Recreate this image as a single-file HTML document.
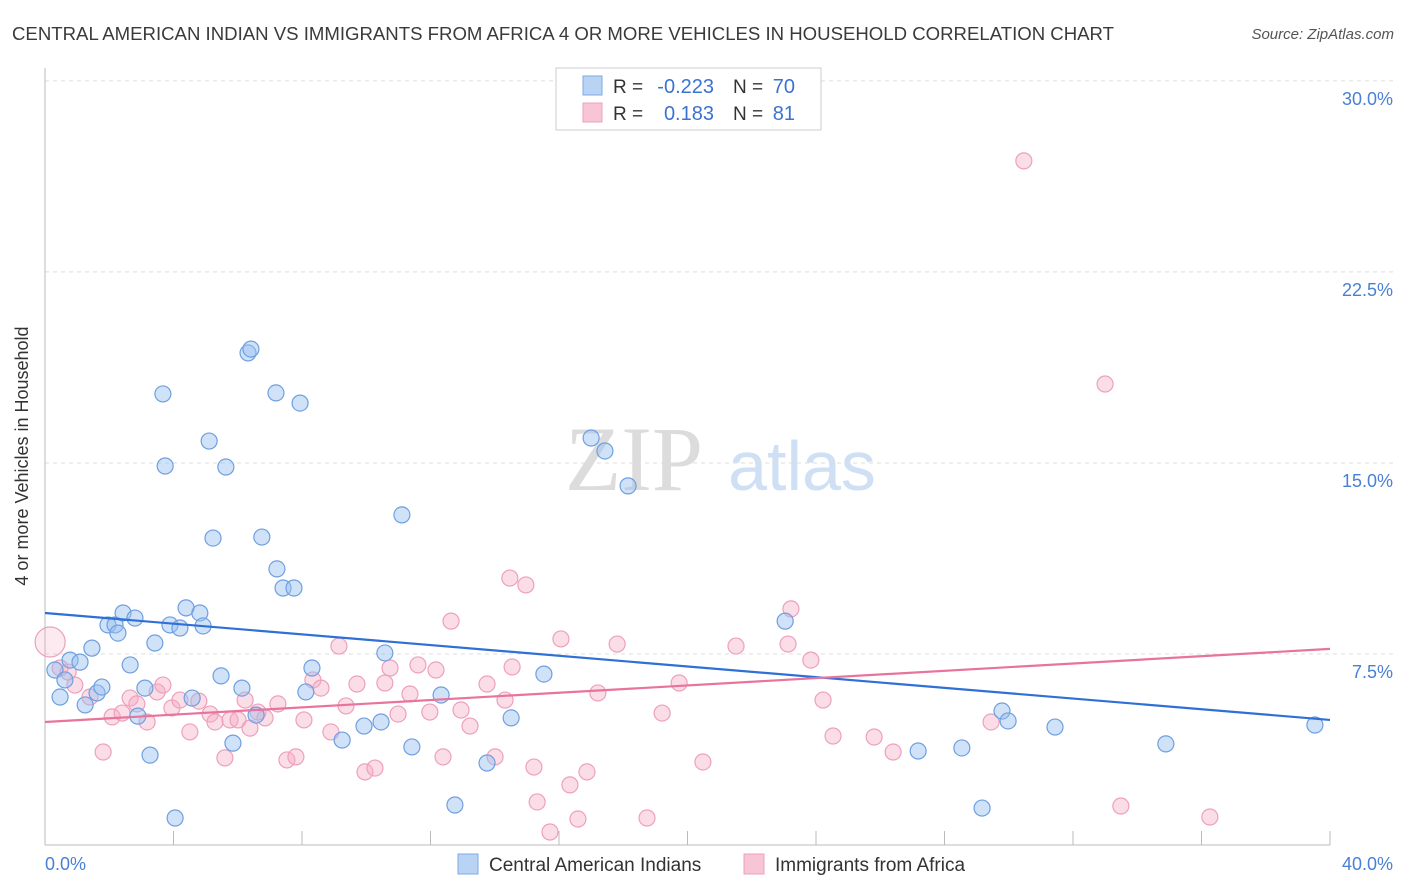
<!DOCTYPE html>
<html><head><meta charset="utf-8"><style>
body{margin:0;background:#fff;font-family:"Liberation Sans",sans-serif;}
svg{display:block}
</style></head><body>
<svg id="chart" width="1406" height="892" xmlns="http://www.w3.org/2000/svg">
<text x="12" y="40" font-size="18.6" fill="#3a3a3a">CENTRAL AMERICAN INDIAN VS IMMIGRANTS FROM AFRICA 4 OR MORE VEHICLES IN HOUSEHOLD CORRELATION CHART</text>
<text x="1394" y="39" font-size="15" fill="#555" text-anchor="end" font-style="italic">Source: ZipAtlas.com</text>
<text x="28" y="456" font-size="18" fill="#333" text-anchor="middle" transform="rotate(-90 28 456)">4 or more Vehicles in Household</text>
<g><text x="634" y="490" font-size="92" fill="#dcdcdc" font-family="Liberation Serif" text-anchor="middle">ZIP</text><text x="802" y="490" font-size="70" fill="#cfe0f5" text-anchor="middle">atlas</text></g>
<g id="grid"></g><g id="axes"></g><g id="pts"></g><g id="lines"></g>
<g>
<rect x="556" y="68" width="265" height="62" fill="#fff" stroke="#ccc"/>
<rect x="583" y="76" width="19" height="19" fill="#b9d3f5" stroke="#7ea8e0"/>
<rect x="583" y="103" width="19" height="19" fill="#f8c5d6" stroke="#eea0bb"/>
<text x="613" y="93" font-size="19" fill="#333">R =</text>
<text x="714" y="93" font-size="20" fill="#3b73d1" text-anchor="end">-0.223</text>
<text x="733" y="93" font-size="19" fill="#333">N =</text>
<text x="795" y="93" font-size="20" fill="#3b73d1" text-anchor="end">70</text>
<text x="613" y="120" font-size="19" fill="#333">R =</text>
<text x="714" y="120" font-size="20" fill="#3b73d1" text-anchor="end">0.183</text>
<text x="733" y="120" font-size="19" fill="#333">N =</text>
<text x="795" y="120" font-size="20" fill="#3b73d1" text-anchor="end">81</text>
</g>
<g>
<rect x="458" y="854" width="20" height="20" fill="#b9d3f5" stroke="#7ea8e0"/>
<text x="489" y="871" font-size="19" fill="#333">Central American Indians</text>
<rect x="744" y="854" width="20" height="20" fill="#f8c5d6" stroke="#eea0bb"/>
<text x="775" y="871" font-size="19" fill="#333">Immigrants from Africa</text>
</g>
</svg>
<script>
const yTicks=[7.5,15,22.5,30];
const yTickLabels=["7.5%","15.0%","22.5%","30.0%"];
const xTickVals=[0,4,8,12,16,20,24,28,32,36,40];
const xEndLabels=["0.0%","40.0%"];
const blueX=[0.31,0.47,0.62,0.78,1.09,1.25,1.46,1.62,1.77,1.96,2.18,2.27,2.43,2.65,2.80,3.11,2.89,3.27,3.42,3.67,3.74,3.89,4.05,4.20,4.39,4.58,4.82,4.92,5.11,5.23,5.48,5.63,5.85,6.13,6.32,6.41,6.57,6.75,7.19,7.22,7.41,7.75,7.94,8.12,8.31,9.25,9.93,10.46,10.58,11.11,11.42,12.33,12.76,13.76,14.51,15.53,17.00,17.43,18.15,23.04,27.18,28.54,29.17,29.79,29.98,31.44,34.89,39.53];
const blueY=[6.87,5.81,6.48,7.26,7.18,5.50,7.73,5.97,6.20,8.64,8.64,8.32,9.11,7.07,8.91,6.16,5.06,3.53,7.93,17.71,14.88,8.64,1.06,8.52,9.31,5.77,9.11,8.60,15.86,12.05,6.64,14.84,4.00,6.16,19.32,19.47,5.10,12.09,17.75,10.84,10.09,10.09,17.35,6.01,6.95,4.12,4.67,4.83,7.54,12.96,3.85,5.89,1.57,3.22,4.99,6.71,15.98,15.47,14.10,8.79,3.69,3.81,1.45,5.26,4.87,4.63,3.97,4.71];
const pinkX=[0.16,0.47,0.72,0.93,1.40,1.81,2.09,2.40,2.65,2.86,3.18,3.49,3.67,3.95,4.20,4.51,4.79,5.14,5.29,5.60,5.76,6.01,6.23,6.38,6.63,6.85,7.25,7.53,7.81,8.06,8.34,8.59,8.90,9.15,9.37,9.71,9.96,10.27,10.58,10.74,10.99,11.36,11.61,11.98,12.17,12.39,12.64,12.95,13.23,13.76,14.01,14.32,14.47,14.54,14.97,15.22,15.32,15.72,16.06,16.34,16.59,16.87,17.21,17.81,18.74,19.21,19.74,20.48,21.51,23.13,23.22,23.84,24.22,24.53,25.81,26.40,29.45,30.47,33.00,33.49,36.26];
const pinkY=[7.97,6.95,6.79,6.28,5.81,3.65,5.03,5.18,5.77,5.54,4.83,6.01,6.28,5.38,5.69,4.44,5.65,5.14,4.83,3.42,4.91,4.91,5.69,4.59,5.22,4.99,5.54,3.34,3.46,4.91,6.48,6.16,4.44,7.81,5.46,6.32,2.87,3.02,6.36,6.95,5.14,5.93,7.07,5.22,6.87,3.46,8.79,5.30,4.67,6.32,3.46,5.69,10.48,6.99,10.21,3.06,1.69,0.51,8.09,2.36,1.02,2.87,5.97,7.89,1.06,5.18,6.36,3.26,7.81,7.89,9.27,7.26,5.69,4.28,4.24,3.65,4.83,26.86,18.10,1.53,1.10];
const blueTrend=[9.11,4.91];
const pinkTrend=[4.83,7.70];
const NS="http://www.w3.org/2000/svg";
const X0=45,X1=1330,Y0=845,PXPCT=25.47;
const sx=v=>X0+(X1-X0)*v/40;
const sy=v=>Y0-v*PXPCT;
function mk(t,a,p){const e=document.createElementNS(NS,t);for(const k in a)e.setAttribute(k,a[k]);p.appendChild(e);return e;}
const grid=document.getElementById('grid'),axes=document.getElementById('axes'),pts=document.getElementById('pts'),lines=document.getElementById('lines');
yTicks.forEach((v,i)=>{
 const l=mk('line',{x1:X0,x2:1393,y1:sy(v),y2:sy(v),stroke:'#ddd','stroke-dasharray':'4,4'},grid);
 
 
 const t=mk('text',{x:1393,y:sy(v)+24,'font-size':18,fill:'#4a7fd6','text-anchor':'end'},grid);
 t.textContent=yTickLabels[i];
 
 
});
const ya=mk('line',{x1:X0,x2:X0,y1:68,y2:Y0,stroke:'#bbb'},axes);


const xa=mk('line',{x1:X0,x2:X1,y1:Y0,y2:Y0,stroke:'#bbb'},axes);


xTickVals.forEach(v=>{
 const t=mk('line',{x1:sx(v),x2:sx(v),y1:Y0,y2:Y0-14,stroke:'#bbb'},axes);
 
 
});
[[0,'start',45],[40,'end',1393]].forEach((d,i)=>{
 const t=mk('text',{x:d[2],y:870,'font-size':18,fill:'#4a7fd6','text-anchor':d[1]},axes);
 t.textContent=xEndLabels[i];
 
 
});
function dots(xs,ys,fill,stroke,name){
 xs.forEach((x,i)=>{
  const big=(i===0&&name==='pink-point');
  const c=mk('circle',{cx:sx(x),cy:sy(ys[i]),r:big?15:8,fill:big?'rgba(245,170,196,0.25)':fill,stroke:stroke,'stroke-width':1.2},pts);
  
  
 });
}
dots(pinkX,pinkY,'rgba(245,170,196,0.40)','#eea0bb','pink-point');
dots(blueX,blueY,'rgba(150,190,240,0.45)','#6f9fe0','blue-point');
const bl=mk('line',{x1:sx(0),y1:sy(blueTrend[0]),x2:sx(40),y2:sy(blueTrend[1]),stroke:'#2f6fd6','stroke-width':2.2},lines);


const pl=mk('line',{x1:sx(0),y1:sy(pinkTrend[0]),x2:sx(40),y2:sy(pinkTrend[1]),stroke:'#e8739c','stroke-width':2.2},lines);


</script>
</body></html>
